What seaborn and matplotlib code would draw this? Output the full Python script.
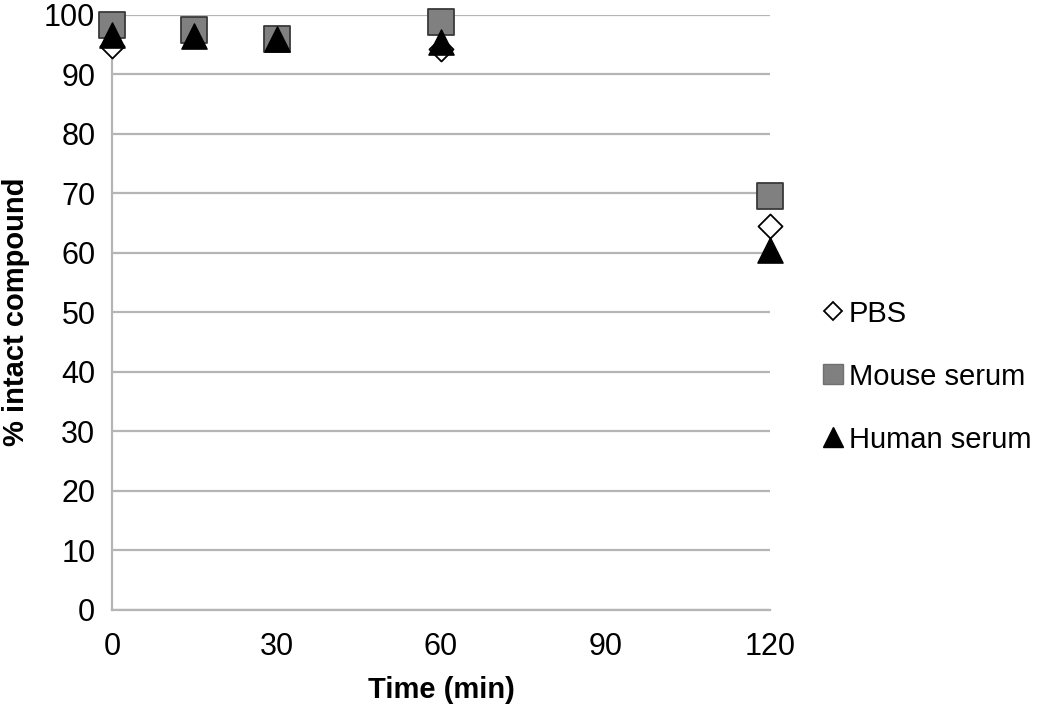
import numpy as np
import pandas as pd
import seaborn as sns
import matplotlib.pyplot as plt

# time points (min)
time = [0, 15, 30, 60, 120]

# % intact compound per medium
pbs = [94.7, 96.8, 96.0, 94.3, 64.5]
mouse = [98.2, 97.4, 96.0, 98.8, 69.5]
human = [96.6, 96.4, 96.0, 95.4, 60.5]

series = ['PBS', 'Mouse serum', 'Human serum']
df = pd.concat([
    pd.DataFrame({'time': time, 'value': pbs, 'series': 'PBS'}),
    pd.DataFrame({'time': time, 'value': mouse, 'series': 'Mouse serum'}),
    pd.DataFrame({'time': time, 'value': human, 'series': 'Human serum'}),
])

sns.set_style('white')
plt.rcParams['font.family'] = ['Liberation Sans', 'DejaVu Sans']
plt.rcParams['text.color'] = 'black'
plt.rcParams['axes.labelcolor'] = 'black'
plt.rcParams['xtick.labelcolor'] = 'black'
plt.rcParams['ytick.labelcolor'] = 'black'

fig = plt.figure(figsize=(10.5, 7.04), dpi=100)
ax = fig.add_axes([0.1067, 0.134, 0.6267, 0.845])

styles = {
    'PBS': dict(marker='D', s=150, color='white', edgecolor='black', linewidth=1.3),
    'Mouse serum': dict(marker='s', s=360, color='#808080', edgecolor='#3a3a3a', linewidth=1.3),
    'Human serum': dict(marker='^', s=330, color='black', edgecolor='black', linewidth=1.0),
}
for name in series:
    sub = df[df['series'] == name]
    sns.scatterplot(data=sub, x='time', y='value', ax=ax, label=name,
                    clip_on=False, zorder=3, legend=False, **styles[name])

ax.set_xlim(0, 120)
ax.set_ylim(0, 100)
ax.set_xticks([0, 30, 60, 90, 120])
ax.set_yticks(np.arange(0, 101, 10))
ax.yaxis.grid(True, color='#b5b5b5', linewidth=1.6)
ax.xaxis.grid(False)
for side in ['top', 'right']:
    ax.spines[side].set_visible(False)
for side in ['left', 'bottom']:
    ax.spines[side].set_color('#b5b5b5')
    ax.spines[side].set_linewidth(1.6)
ax.tick_params(axis='both', length=7, width=1.6, color='#b5b5b5',
               labelsize=22, direction='out', pad=5)
ax.tick_params(axis='x', pad=9)

ax.set_xlabel('Time (min)', fontsize=21, fontweight='bold', labelpad=10)
ax.set_ylabel('% intact compound', fontsize=21, fontweight='bold', labelpad=10)

handles = [
    plt.Line2D([], [], linestyle='', marker='D', markersize=9, markerfacecolor='white',
               markeredgecolor='black', markeredgewidth=1.3),
    plt.Line2D([], [], linestyle='', marker='s', markersize=15, markerfacecolor='#808080',
               markeredgecolor='#707070', markeredgewidth=1.0),
    plt.Line2D([], [], linestyle='', marker='^', markersize=14, markerfacecolor='black',
               markeredgecolor='black'),
]
fig.legend(handles, series, loc='center left', bbox_to_anchor=(0.772, 0.465),
           frameon=False, fontsize=21, handlelength=0.75, handletextpad=0.15,
           labelspacing=1.2, borderaxespad=0)

fig.savefig('out.png', dpi=100)
